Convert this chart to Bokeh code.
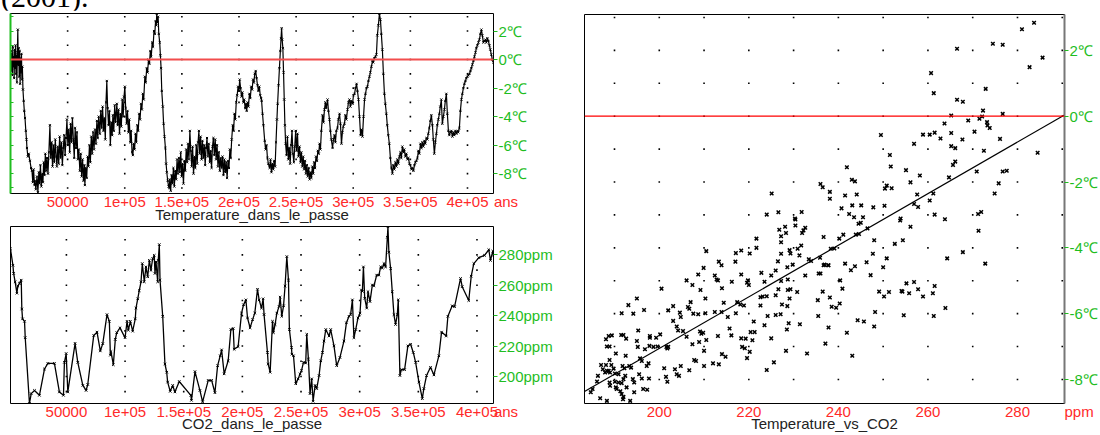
import numpy as np
from bokeh.plotting import figure
from bokeh.models import Range1d, LinearAxis, FixedTicker, Span, Div
from bokeh.layouts import column, row
from bokeh.embed import file_html
from bokeh.resources import INLINE

# ---------------- data ----------------
# Temperature anomaly (deg C) vs age (thousands of years)
temp_age_ka = [
    0.0, 0.4, 0.8, 1.2, 1.6, 2.0, 2.4, 2.8, 3.2, 3.6,
    4.0, 4.4, 4.8, 5.2, 5.6, 6.0, 6.4, 6.8, 7.2, 7.6,
    8.0, 8.4, 8.8, 9.2, 9.6, 10.0, 10.4, 10.9, 11.5, 12.1,
    12.7, 13.4, 14.0, 14.4, 15.2, 16.0, 17.0, 18.0, 18.8, 19.5,
    20.2, 21.0, 21.4, 22.2, 23.2, 24.0, 24.8, 25.5, 26.2, 27.0,
    27.8, 28.4, 29.0, 29.8, 30.5, 31.2, 32.0, 32.8, 33.6, 34.5,
    35.2, 36.0, 36.8, 37.6, 38.4, 39.2, 40.0, 40.6, 41.4, 42.2,
    43.0, 43.8, 44.6, 45.4, 46.2, 47.0, 47.8, 48.6, 49.4, 50.2,
    51.0, 51.8, 52.6, 53.4, 54.2, 55.0, 55.8, 56.6, 57.4, 58.2,
    59.0, 59.8, 60.7, 61.5, 62.3, 63.1, 63.9, 64.7, 65.1, 65.9,
    66.7, 67.5, 68.3, 69.1, 69.9, 70.7, 71.5, 72.3, 73.1, 74.0,
    74.8, 75.6, 76.4, 77.2, 78.2, 79.0, 79.8, 80.6, 81.4, 82.2,
    83.0, 83.6, 84.3, 85.0, 85.8, 86.6, 87.4, 88.2, 89.0, 89.6,
    90.4, 91.2, 92.0, 93.1, 93.8, 94.6, 95.4, 96.2, 97.0, 97.8,
    98.6, 99.4, 100.1, 100.8, 101.6, 102.4, 103.2, 104.0, 104.8, 105.6,
    106.4, 107.1, 107.8, 108.6, 109.4, 110.2, 111.0, 111.8, 112.6, 113.4,
    114.2, 115.0, 115.8, 116.6, 117.6, 118.4, 119.2, 120.0, 120.8, 121.6,
    122.4, 123.2, 124.0, 124.8, 125.6, 126.3, 127.0, 127.6, 128.0, 128.6,
    129.2, 129.8, 130.6, 131.2, 131.8, 132.4, 133.3, 134.0, 134.8, 135.6,
    136.2, 136.8, 137.6, 138.4, 139.0, 139.4, 140.2, 141.0, 141.8, 142.6,
    143.4, 144.2, 145.0, 145.8, 146.6, 147.4, 148.2, 149.0, 149.8, 150.6,
    151.4, 152.2, 153.0, 153.8, 154.6, 155.4, 156.2, 157.0, 157.8, 158.6,
    159.4, 160.2, 161.0, 161.8, 162.6, 163.4, 164.2, 164.9, 165.6, 166.4,
    167.2, 168.0, 168.8, 169.6, 170.4, 171.2, 172.0, 172.8, 173.6, 174.4,
    175.2, 176.0, 176.8, 177.6, 178.4, 179.2, 180.0, 180.8, 181.6, 182.4,
    183.2, 184.0, 184.8, 185.6, 186.4, 187.2, 188.0, 188.8, 189.6, 190.4,
    191.2, 192.0, 192.8, 193.6, 194.5, 195.3, 196.0, 196.8, 197.6, 198.4,
    199.2, 200.0, 200.6, 201.4, 202.2, 203.0, 203.8, 204.6, 205.4, 206.2,
    206.7, 207.5, 208.3, 209.1, 209.9, 210.7, 211.5, 212.3, 213.0, 213.8,
    214.6, 215.4, 216.2, 217.0, 217.8, 218.6, 219.4, 219.8, 220.6, 221.4,
    222.5, 223.3, 224.1, 224.9, 225.7, 226.8, 227.6, 228.4, 229.2, 230.0,
    230.8, 231.6, 232.4, 233.2, 233.8, 234.6, 235.4, 236.2, 236.8, 237.3,
    237.8, 238.4, 239.0, 239.6, 240.2, 240.8, 241.6, 242.4, 243.2, 244.0,
    244.8, 245.6, 246.4, 247.2, 248.0, 248.8, 249.6, 250.4, 251.2, 252.0,
    253.0, 253.8, 254.6, 255.4, 256.2, 257.0, 257.8, 258.6, 259.4, 260.2,
    261.0, 261.8, 262.6, 263.4, 264.2, 265.0, 265.8, 266.6, 267.4, 268.2,
    269.0, 269.8, 270.5, 271.3, 272.1, 273.1, 274.0, 274.8, 275.6, 276.4,
    277.5, 278.3, 279.2, 280.0, 280.8, 281.9, 282.7, 283.6, 284.4, 285.2,
    286.2, 287.0, 288.0, 288.8, 289.7, 290.5, 291.3, 292.3, 293.1, 294.0,
    295.0, 295.8, 296.7, 297.5, 298.3, 299.4, 300.2, 301.1, 302.0, 302.9,
    303.7, 304.6, 305.5, 306.4, 307.2, 308.1, 309.0, 309.9, 310.7, 311.6,
    312.4, 313.3, 314.2, 315.0, 315.9, 316.8, 317.6, 318.5, 319.4, 320.3,
    321.1, 322.0, 322.9, 323.8, 324.6, 325.5, 326.4, 327.3, 328.1, 329.0,
    329.8, 330.7, 331.6, 332.5, 333.4, 334.3, 335.1, 336.0, 336.9, 337.8,
    338.6, 339.5, 340.4, 341.3, 342.1, 343.0, 343.9, 344.7, 345.6, 346.5,
    347.4, 348.3, 349.2, 350.0, 350.9, 351.8, 352.7, 353.6, 354.4, 355.3,
    356.2, 357.0, 357.9, 358.8, 359.7, 360.5, 361.4, 362.3, 363.1, 364.0,
    364.9, 365.7, 366.6, 367.5, 368.4, 369.3, 370.1, 371.0, 371.9, 372.8,
    373.6, 374.5, 375.4, 376.2, 377.1, 378.0, 378.9, 379.8, 380.6, 381.5,
    382.4, 383.3, 384.1, 385.0, 385.9, 386.8, 387.6, 388.5, 389.4, 390.3,
    391.2, 392.0, 392.9, 393.8, 394.7, 395.5, 396.4, 397.3, 398.2, 399.0,
    399.9, 400.8, 401.7, 402.6, 403.4, 404.3, 405.2, 406.1, 407.0, 407.8,
    408.7, 409.6, 410.4, 411.3, 412.2, 413.0, 413.9, 414.8, 415.7, 416.5,
    417.4, 418.3, 419.2, 420.0, 420.9, 421.8, 422.7,
]
temp_c = [
    -0.3, 0.6, -0.8, 0.4, -1.1, 0.9, -0.5, 0.2, -1.3, 0.7,
    -0.6, 1.0, -1.0, 0.3, -1.6, 0.5, 2.1, -0.4, 0.8, -1.2,
    0.6, -1.7, 0.1, -0.9, 0.4, -1.4, -0.5, -2.1, -2.9, -3.6,
    -4.1, -5.0, -5.6, -6.2, -6.8, -6.6, -7.1, -7.6, -7.8, -8.6,
    -7.7, -8.8, -8.5, -9.1, -8.2, -9.3, -7.9, -8.7, -7.4, -8.9,
    -8.0, -8.6, -7.2, -8.1, -6.6, -7.8, -6.9, -8.0, -6.5, -4.6,
    -6.9, -5.8, -7.5, -6.0, -7.2, -5.6, -6.8, -7.5, -6.1, -7.3,
    -5.4, -6.9, -5.8, -7.4, -6.2, -5.3, -6.7, -5.5, -4.2, -6.0,
    -4.9, -6.5, -4.5, -5.8, -4.1, -5.6, -6.9, -4.8, -6.2, -5.1,
    -7.0, -6.3, -7.8, -6.6, -8.2, -7.0, -8.5, -7.4, -8.8, -7.6,
    -8.3, -6.8, -7.5, -6.0, -7.2, -5.4, -6.6, -5.1, -6.3, -4.9,
    -5.9, -4.3, -5.5, -4.0, -5.2, -3.6, -4.8, -3.3, -5.0, -4.1,
    -5.6, -3.0, -1.5, -3.4, -4.6, -3.6, -6.0, -4.4, -5.3, -3.9,
    -5.0, -3.2, -4.4, -3.1, -4.6, -3.5, -5.2, -3.8, -4.7, -2.8,
    -4.0, -2.6, -1.9, -3.4, -4.5, -3.6, -5.1, -4.2, -5.8, -5.0,
    -6.5, -6.7, -5.9, -6.3, -5.2, -5.8, -4.6, -5.0, -3.8, -4.2,
    -3.1, -3.5, -2.4, -2.8, -1.2, -1.6, -0.6, -0.9, 0.0, -0.3,
    0.6, 0.2, 1.2, 0.9, 2.0, 1.8, 2.7, 2.4, 3.2, 2.6,
    3.0, 1.8, 1.2, 0.3, -0.6, -2.2, -3.3, -4.5, -5.4, -6.2,
    -7.3, -7.9, -8.5, -8.9, -9.0, -8.4, -9.2, -8.1, -8.7, -7.6,
    -8.9, -7.8, -8.4, -7.0, -8.0, -6.9, -7.9, -6.5, -8.2, -7.3,
    -8.7, -7.1, -7.8, -6.3, -7.2, -5.9, -7.0, -5.0, -6.4, -7.5,
    -6.1, -8.0, -6.8, -7.6, -6.0, -7.3, -5.8, -5.0, -6.6, -5.4,
    -7.0, -5.7, -6.9, -6.0, -7.4, -6.2, -5.5, -6.8, -5.9, -7.2,
    -6.4, -7.6, -6.1, -5.5, -6.7, -5.6, -7.0, -6.0, -7.5, -6.5,
    -7.8, -6.9, -7.6, -6.8, -8.1, -7.0, -7.9, -7.2, -8.3, -7.1,
    -7.6, -6.3, -6.9, -5.6, -4.6, -5.0, -3.8, -4.2, -3.0, -2.5,
    -1.9, -2.2, -1.4, -2.0, -2.6, -2.3, -3.0, -2.8, -3.4, -3.1,
    -3.6, -3.0, -3.3, -2.4, -2.7, -1.9, -2.1, -1.4, -1.6, -1.0,
    -0.8, -1.3, -1.8, -2.2, -1.9, -2.5, -2.7, -2.9, -3.8, -4.6,
    -5.7, -6.3, -6.0, -6.9, -7.3, -7.6, -7.0, -7.9, -7.3, -7.7,
    -7.1, -7.5, -5.8, -4.2, -3.1, -1.8, -0.6, 0.6, 1.5, 2.2,
    1.4, 0.8, -0.9, -2.8, -4.6, -5.9, -6.7, -5.4, -7.0, -6.2,
    -7.3, -6.0, -5.0, -6.6, -7.2, -6.1, -5.0, -6.4, -5.2, -6.8,
    -6.1, -7.2, -6.5, -7.5, -6.8, -7.7, -7.1, -8.0, -7.4, -8.2,
    -7.6, -8.4, -7.9, -8.3, -7.5, -8.0, -7.2, -7.6, -6.8, -7.1,
    -6.4, -6.6, -5.9, -6.3, -5.0, -3.9, -4.4, -3.5, -3.0, -3.4,
    -2.8, -3.6, -4.2, -5.0, -5.6, -6.2, -5.6, -5.3, -5.8, -5.0,
    -4.8, -4.2, -3.8, -4.5, -5.9, -5.1, -4.7, -4.5, -3.9, -4.2,
    -3.5, -3.0, -2.8, -3.3, -2.9, -3.1, -2.5, -2.4, -2.0, -1.7,
    -2.2, -2.8, -4.0, -5.3, -4.9, -5.4, -4.0, -2.8, -2.4, -2.0,
    -1.9, -1.5, -1.2, -0.9, -0.5, -0.1, -0.2, 0.1, 0.2, 0.35,
    1.7, 2.4, 3.2, 2.8, 1.8, 0.7, -1.0, -2.4, -3.1, -3.8,
    -4.6, -5.3, -5.9, -6.9, -7.6, -8.0, -7.4, -7.7, -7.2, -7.5,
    -7.0, -7.3, -6.8, -6.5, -6.9, -6.1, -6.5, -6.3, -6.8, -6.6,
    -7.0, -6.9, -7.3, -7.4, -7.7, -7.6, -7.8, -7.4, -7.2, -7.1,
    -6.9, -6.4, -6.6, -5.9, -6.2, -5.8, -6.1, -5.7, -5.9, -5.5,
    -5.6, -5.2, -4.8, -4.3, -3.9, -4.6, -5.6, -6.6, -5.8, -5.2,
    -4.6, -4.2, -3.8, -3.3, -2.8, -4.5, -4.0, -3.5, -2.9, -2.4,
    -3.8, -5.0, -5.3, -5.1, -5.0, -5.4, -5.1, -5.3, -5.0, -5.2,
    -5.0, -5.1, -4.8, -3.6, -2.8, -2.4, -2.0, -1.7, -1.5, -1.3,
    -1.2, -1.1, -1.0, -0.8, -0.6, -0.35, -0.1, 0.2, 0.5, 0.8,
    1.0, 1.2, 1.4, 1.8, 2.1, 1.7, 1.2, 1.3, 1.4, 1.2,
    1.5, 1.3, 1.0, 0.7, 0.35, 0.0, -0.2,
]

# CO2 (ppm) vs age (thousands of years)
co2_age_ka = [
    2.3, 4.4, 5.0, 6.3, 7.8, 8.6, 10.0, 11.5, 12.0, 12.6,
    14.3, 14.9, 18.5, 20.0, 22.8, 27.0, 31.3, 34.2, 39.8, 44.0,
    47.5, 48.3, 49.8, 51.2, 57.4, 59.7, 64.0, 66.8, 68.2, 73.3,
    76.1, 78.9, 81.0, 84.6, 86.6, 87.5, 88.0, 90.0, 91.7, 92.9,
    95.7, 100.0, 101.7, 102.8, 104.5, 106.5, 108.7, 109.3, 110.8, 112.1,
    113.6, 114.7, 116.4, 117.8, 119.3, 120.7, 122.1, 123.5, 124.9, 125.5,
    126.4, 127.8, 128.3, 129.2, 129.8, 132.1, 134.0, 135.5, 136.3, 138.5,
    140.6, 142.5, 146.2, 156.1, 156.6, 159.6, 163.8, 166.1, 170.9, 173.8,
    176.6, 178.9, 181.1, 182.3, 184.5, 187.9, 190.2, 192.2, 193.0, 196.4,
    199.3, 201.0, 203.0, 204.4, 206.6, 208.7, 210.6, 212.9, 214.3, 216.3,
    217.7, 218.5, 221.4, 222.0, 223.7, 225.7, 226.5, 227.9, 229.4, 231.3,
    232.2, 233.6, 235.1, 236.4, 237.9, 239.3, 240.1, 241.9, 242.2, 243.6,
    245.5, 247.5, 249.2, 250.4, 252.1, 254.0, 254.9, 256.3, 257.7, 259.1,
    260.3, 262.0, 263.4, 265.4, 266.8, 268.3, 269.6, 271.1, 273.9, 275.3,
    278.1, 280.4, 283.2, 286.6, 288.7, 290.9, 292.3, 293.8, 295.1, 296.6,
    298.6, 300.3, 301.5, 302.3, 303.2, 304.3, 306.0, 307.1, 308.8, 310.8,
    312.2, 314.5, 316.4, 317.9, 319.3, 320.7, 322.1, 323.6, 324.1, 324.9,
    326.4, 327.8, 329.2, 330.6, 332.1, 332.9, 334.3, 335.5, 338.3, 341.1,
    343.4, 345.7, 347.7, 350.5, 353.4, 354.7, 357.0, 360.4, 363.3, 367.5,
    369.8, 373.8, 375.2, 378.9, 380.9, 386.0, 387.4, 393.0, 395.1, 397.3,
    401.6, 406.4, 410.1, 411.5, 413.5, 414.1,
]
co2_ppm = [
    284.0, 273.2, 267.8, 262.3, 254.8, 259.5, 261.3, 263.4, 244.4, 237.9,
    236.3, 225.5, 182.2, 188.7, 190.8, 187.6, 204.9, 208.6, 208.6, 189.8,
    187.6, 209.3, 215.1, 189.8, 221.8, 209.3, 194.1, 190.8, 194.7, 227.0,
    229.2, 216.8, 221.6, 240.7, 236.3, 214.0, 216.4, 207.7, 224.4, 228.8,
    232.0, 225.5, 236.3, 230.5, 236.3, 229.8, 237.9, 245.0, 251.1, 256.5,
    262.3, 274.3, 262.3, 272.1, 265.6, 276.4, 269.9, 277.5, 279.7, 267.8,
    275.3, 262.3, 276.4, 286.8, 263.4, 239.6, 208.2, 202.8, 196.3, 190.2,
    194.1, 189.8, 196.7, 187.6, 184.3, 203.2, 190.8, 183.3, 197.4, 197.4,
    189.3, 207.1, 213.6, 217.5, 201.7, 210.3, 230.9, 231.6, 217.9, 219.7,
    241.7, 247.2, 250.4, 238.5, 232.0, 237.4, 241.7, 257.4, 250.4, 245.0,
    251.1, 240.7, 215.8, 208.2, 202.8, 236.3, 228.8, 234.2, 241.7, 246.1,
    252.2, 239.6, 246.5, 259.5, 278.9, 263.4, 230.9, 219.0, 214.7, 213.6,
    195.2, 198.4, 201.7, 203.8, 209.3, 208.8, 227.7, 211.4, 188.7, 198.4,
    183.7, 194.1, 192.0, 200.6, 210.3, 215.8, 223.3, 230.9, 226.6, 230.9,
    220.1, 207.1, 212.5, 223.3, 235.3, 239.6, 240.9, 250.4, 225.5, 230.9,
    238.5, 241.7, 256.9, 256.0, 272.1, 251.5, 245.0, 255.8, 249.3, 260.2,
    259.7, 266.7, 266.7, 272.1, 271.4, 274.3, 272.1, 291.6, 298.5, 281.8,
    271.0, 255.8, 240.7, 234.2, 240.7, 250.4, 200.6, 204.5, 204.5, 220.1,
    221.2, 215.8, 209.3, 196.3, 185.4, 192.0, 200.6, 206.0, 201.0, 213.6,
    229.2, 226.6, 239.6, 246.5, 245.9, 264.5, 259.1, 250.0, 266.0, 274.3,
    278.2, 279.7, 283.4, 276.4, 282.5, 280.0,
]

# Temperature vs CO2 scatter
scatter_co2 = [
    225.1, 224.0, 226.6, 230.3, 231.8, 236.0, 236.5, 238.1, 238.1, 283.7,
    281.0, 274.5, 276.7, 266.5, 285.6, 282.7, 260.7, 261.3, 272.9, 266.5,
    267.8, 272.3, 265.2, 276.7, 271.5, 272.1, 269.0, 263.7, 273.2, 273.3,
    273.8, 270.4, 249.5, 258.9, 260.4, 261.5, 265.2, 262.8, 267.7, 276.1,
    256.9, 265.2, 266.1, 251.5, 272.5, 284.5, 266.1, 265.6, 241.9, 251.7,
    255.1, 258.2, 270.9, 276.7, 277.6, 264.7, 243.0, 243.7, 256.1, 275.8,
    250.8, 250.4, 251.9, 241.5, 244.1, 257.6, 261.2, 274.9, 260.4, 256.9,
    257.8, 240.7, 243.1, 245.1, 247.8, 250.3, 242.4, 243.5, 245.5, 261.5,
    271.2, 271.9, 253.9, 263.8, 226.8, 228.1, 228.3, 230.4, 230.4, 232.6,
    232.2, 231.9, 227.2, 227.2, 221.7, 231.7, 230.9, 229.1, 229.3, 227.2,
    221.7, 220.2, 218.3, 217.1, 210.5, 236.7, 231.3, 233.4, 233.9, 235.9,
    236.9, 237.8, 213.3, 213.9, 217.0, 209.9, 226.5, 229.8, 228.6, 226.0,
    222.8, 225.0, 227.2, 228.7, 232.6, 235.6, 236.0, 218.3, 219.8, 219.6,
    216.2, 212.4, 212.8, 213.1, 208.7, 207.4, 206.1, 209.2, 214.0, 220.0,
    223.5, 226.6, 228.7, 229.3, 230.8, 200.5, 195.0, 193.1, 196.6, 191.6,
    194.2, 202.0, 203.1, 206.4, 206.7, 207.0, 204.6, 204.8, 207.6, 208.7,
    210.3, 210.3, 214.4, 218.1, 218.9, 217.4, 222.6, 223.1, 224.0, 222.6,
    226.0, 227.4, 228.6, 229.1, 212.4, 213.9, 215.3, 217.1, 226.0, 227.1,
    224.2, 221.1, 223.5, 228.9, 231.4, 235.4, 238.1, 238.5, 235.5, 237.8,
    237.1, 233.0, 228.3, 228.5, 220.4, 221.3, 215.7, 216.1, 213.1, 218.3,
    219.3, 220.8, 218.5, 219.1, 225.0, 209.1, 209.4, 209.8, 206.1, 203.9,
    204.2, 203.1, 205.3, 207.4, 208.9, 210.5, 210.0, 207.8, 208.2, 212.0,
    213.3, 214.0, 214.8, 210.0, 219.6, 220.2, 225.6, 224.0, 206.7, 204.8,
    203.5, 203.9, 204.4, 201.5, 201.8, 201.1, 200.2, 201.8, 202.0, 201.6,
    199.3, 197.9, 197.9, 198.7, 197.8, 196.8, 195.7, 196.1, 197.6, 197.2,
    199.6, 195.2, 195.0, 195.3, 192.6, 191.5, 192.0, 188.7, 189.4, 188.9,
    190.3, 188.9, 192.5, 193.7, 191.8, 192.2, 193.3, 195.5, 196.1, 197.7,
    194.1, 194.4, 196.4, 197.3, 194.4, 193.5, 191.6, 192.0, 191.9, 190.5,
    191.3, 192.7, 190.9, 191.6, 192.0, 192.4, 190.1, 190.9, 189.8, 189.3,
    188.1, 188.3, 188.7, 189.0, 190.1, 189.0, 190.3, 188.9, 187.9, 187.4,
    186.3, 186.1, 186.8, 185.1, 184.7, 188.1, 188.3, 188.3, 187.0, 271.3,
    267.8, 272.8, 264.3, 263.9, 261.3, 261.5, 261.1, 258.9, 257.8, 256.9,
    255.2, 255.8, 254.1, 254.3, 254.6, 251.3, 250.2, 249.1, 248.2, 248.0,
    245.7, 244.3, 241.9, 243.1, 239.5, 240.3, 236.5, 240.9, 240.4, 247.2,
    250.0, 246.3, 242.8, 243.7, 241.5, 236.7, 237.7, 247.7, 250.8, 248.0,
    252.6, 254.4, 256.1, 253.8, 246.5, 244.5, 245.0, 243.9, 244.6, 240.2,
    241.1, 238.3, 239.1,
]
scatter_temp = [
    -2.35, -2.99, -2.92, -3.11, -2.91, -2.06, -2.16, -2.30, -2.51, 2.84,
    2.64, 2.20, 2.17, 2.05, 1.78, 1.49, 1.31, 0.70, 0.83, 0.50,
    0.44, 0.17, 0.02, 0.07, -0.08, -0.01, -0.13, -0.22, -0.18, -0.28,
    -0.36, -0.47, -0.57, -0.56, -0.56, -0.50, -0.51, -0.68, -0.71, -0.69,
    -0.84, -0.91, -0.97, -1.18, -1.05, -1.11, -1.38, -1.48, -1.55, -1.53,
    -1.64, -1.80, -1.68, -1.68, -1.66, -1.86, -1.93, -1.98, -2.01, -2.04,
    -2.11, -2.20, -2.19, -2.41, -2.38, -2.38, -2.35, -2.35, -2.56, -2.67,
    -2.76, -2.80, -2.71, -2.71, -2.77, -2.72, -2.97, -3.07, -3.07, -2.99,
    -2.97, -2.91, -3.11, -3.13, -3.45, -3.36, -3.55, -3.14, -3.32, -3.39,
    -3.47, -3.55, -3.65, -3.83, -3.72, -3.93, -4.03, -4.07, -4.17, -4.18,
    -4.00, -4.17, -4.08, -4.16, -4.10, -3.67, -4.23, -4.35, -4.40, -4.30,
    -4.51, -4.53, -4.42, -4.53, -4.42, -4.61, -4.41, -4.51, -4.59, -4.69,
    -4.76, -4.84, -5.01, -4.96, -4.84, -4.78, -4.78, -4.81, -4.99, -5.06,
    -5.03, -4.84, -4.96, -4.99, -4.81, -5.13, -4.99, -5.28, -5.23, -5.13,
    -5.03, -5.26, -5.28, -5.26, -5.34, -5.24, -5.54, -5.74, -5.89, -5.99,
    -6.00, -5.90, -5.77, -5.80, -5.85, -5.65, -5.97, -6.10, -6.00, -6.02,
    -5.99, -5.54, -5.67, -5.72, -5.75, -5.65, -5.50, -5.48, -5.47, -5.75,
    -5.44, -5.72, -5.77, -5.54, -5.95, -5.95, -6.10, -5.99, -6.04, -6.02,
    -6.07, -6.24, -6.35, -6.29, -6.32, -5.59, -5.51, -5.79, -6.07, -6.42,
    -6.91, -7.21, -7.13, -6.48, -6.56, -6.56, -6.45, -6.66, -6.68, -6.75,
    -6.76, -6.81, -7.01, -7.05, -6.75, -6.54, -6.61, -6.58, -6.70, -6.39,
    -6.51, -6.22, -6.53, -6.93, -6.86, -6.80, -7.13, -7.41, -7.44, -7.51,
    -7.54, -7.23, -7.31, -7.59, -7.35, -7.16, -7.48, -7.71, -7.72, -7.59,
    -7.69, -7.84, -7.89, -7.92, -8.07, -7.66, -6.63, -7.06, -7.01, -7.01,
    -6.73, -6.68, -6.73, -7.01, -6.98, -7.08, -7.36, -7.44, -7.51, -7.59,
    -7.00, -7.01, -6.83, -6.51, -6.76, -6.65, -6.65, -6.68, -6.66, -7.00,
    -7.21, -7.41, -7.28, -7.64, -7.59, -7.66, -7.59, -7.84, -7.97, -7.97,
    -7.99, -8.09, -8.29, -8.31, -8.39, -8.65, -8.44, -8.53, -8.60, -8.29,
    -8.36, -8.24, -8.09, -8.11, -7.99, -7.89, -7.82, -7.84, -7.67, -7.56,
    -7.56, -7.74, -7.74, -7.79, -8.07, -8.19, -8.24, -8.09, -7.79, -7.69,
    -7.89, -8.06, -8.57, -8.29, -8.39, -6.78, -7.00, -8.65, -7.56, -3.48,
    -4.13, -4.48, -4.32, -5.83, -6.07, -5.16, -5.38, -5.48, -5.26, -5.04,
    -5.08, -5.38, -5.31, -5.33, -6.05, -5.34, -5.48, -5.33, -5.95, -6.39,
    -6.24, -6.20, -6.58, -7.28, -5.82, -5.69, -5.33, -5.24, -4.99, -4.83,
    -4.59, -4.44, -4.68, -4.56, -4.48, -4.53, -4.53, -4.18, -4.32, -3.77,
    -3.88, -3.77, -3.36, -3.17, -3.41, -3.27, -3.24, -3.60, -3.58, -3.72,
    -3.60, -4.03, -4.02,
]

# axis ticks / labels
age_ticks = [50000, 100000, 150000, 200000, 250000, 300000, 350000, 400000]
age_labels = ["50000", "1e+05", "1.5e+05", "2e+05", "2.5e+05", "3e+05", "3.5e+05", "4e+05"]
temp_ticks = [-8, -6, -4, -2, 0, 2]
temp_labels = ["-8℃", "-6℃", "-4℃", "-2℃", "0℃", "2℃"]
temp_grid = [-9, -8, -7, -6, -5, -4, -3, -2, -1, 0, 1, 2, 3]
co2_ticks = [200, 220, 240, 260, 280]
co2_labels = ["200ppm", "220ppm", "240ppm", "260ppm", "280ppm"]
co2_grid = [190, 200, 210, 220, 230, 240, 250, 260, 270, 280, 290]
scat_x_ticks = [200, 220, 240, 260, 280]
scat_x_labels = ["200", "220", "240", "260", "280"]
age_unit = "ans"
co2_unit = "ppm"

# ---------------- styling ----------------
FONT = "Liberation Sans"
RED = "#ff2a2a"
GREEN = "#1fbd1f"
TXT = "#222222"
NBSP = "\u00a0"

X1 = (0.0, 422766.0); Y1 = (-9.39, 3.23)
X2 = (2342.0, 414085.0); Y2 = (182.2, 298.7)
X3 = (183.3, 290.5); Y3 = (-8.73, 3.09)


def make_fig(w, h, xr, yr, bl, br, bt, bb):
    p = figure(width=w, height=h, x_range=Range1d(*xr), y_range=Range1d(*yr),
               output_backend="svg", toolbar_location=None,
               x_axis_location=None, y_axis_location=None,
               min_border_left=bl, min_border_right=br,
               min_border_top=bt, min_border_bottom=bb)
    p.xgrid.visible = False
    p.ygrid.visible = False
    p.outline_line_color = "black"
    p.outline_line_width = 1
    p.background_fill_color = "white"
    p.border_fill_color = "white"
    return p


def axis(ticks, labels, color, tick_out=0, tick_in=0, standoff=1, title=None, title_standoff=-7):
    ax = LinearAxis(ticker=FixedTicker(ticks=ticks),
                    major_label_overrides={t: l for t, l in zip(ticks, labels)})
    ax.axis_line_color = None
    ax.major_tick_out = tick_out
    ax.major_tick_in = tick_in
    ax.major_tick_line_color = color if (tick_out or tick_in) else None
    ax.minor_tick_line_color = None
    ax.minor_tick_out = 0
    ax.minor_tick_in = 0
    ax.major_label_text_color = color
    ax.major_label_text_font = FONT
    ax.major_label_text_font_size = "15px"
    ax.major_label_standoff = standoff
    if title:
        ax.axis_label = title
        ax.axis_label_text_font = FONT
        ax.axis_label_text_font_size = "15px"
        ax.axis_label_text_font_style = "normal"
        ax.axis_label_text_color = TXT
        ax.axis_label_standoff = title_standoff
    return ax


def bottom_axis(ticks, labels, rng, unit, title, pad, title_standoff):
    # unit name is written as the label of a tick at the right end of the range
    end = rng[1] - (rng[1] - rng[0]) * 1e-7
    return axis(list(ticks) + [end], list(labels) + [NBSP * pad + unit], RED,
                standoff=-1, title=title, title_standoff=title_standoff)


def dots(p, xs, ys):
    gx = [x for x in xs for _ in ys]
    gy = [y for _ in xs for y in ys]
    p.scatter(gx, gy, marker="square", size=1.6, fill_color="black", line_color=None)


# ---------- panel 1 : temperature ----------
p1 = make_fig(570, 216, X1, Y1, 10, 77, 3, 33)
dots(p1, age_ticks, temp_grid)
t_years = [a * 1000 for a in temp_age_ka]
p1.line(t_years, temp_c, line_color="black", line_width=1.2)
p1.scatter(t_years, temp_c, marker="x", size=3, line_color="black", line_width=1)
p1.add_layout(Span(location=0, dimension="width", line_color="#f24d4d", line_width=2))
p1.add_layout(bottom_axis(age_ticks, age_labels, X1, age_unit, "Temperature_dans_le_passe", 6, -7), "below")
p1.add_layout(axis(temp_ticks, temp_labels, GREEN, tick_out=4, standoff=1), "right")
lax = axis(temp_grid, [""] * len(temp_grid), GREEN, tick_in=3, standoff=0)
lax.axis_line_color = GREEN
lax.axis_line_width = 2
p1.add_layout(lax, "left")

# ---------- panel 2 : CO2 ----------
p2 = make_fig(570, 209, X2, Y2, 10, 77, 0, 32)
dots(p2, age_ticks, co2_grid)
c_years = [a * 1000 for a in co2_age_ka]
p2.line(c_years, co2_ppm, line_color="black", line_width=1.3)
p2.scatter(c_years, co2_ppm, marker="x", size=3.5, line_color="black", line_width=1)
p2.add_layout(bottom_axis(age_ticks, age_labels, X2, age_unit, "CO2_dans_le_passe", 6, -8), "below")
p2.add_layout(axis(co2_ticks, co2_labels, GREEN, tick_out=4, standoff=1), "right")

# ---------- panel 3 : scatter ----------
p3 = make_fig(530, 425, X3, Y3, 14, 34, 4, 32)
dots(p3, co2_grid, temp_grid[1:])
p3.scatter(scatter_co2, scatter_temp, marker="x", size=5, line_color="black", line_width=1.5)
slope, intercept = np.polyfit(scatter_co2, scatter_temp, 1)
fx = [X3[0], X3[1]]
p3.line(fx, [slope * v + intercept for v in fx], line_color="black", line_width=1.2)
p3.add_layout(Span(location=0, dimension="width", line_color="#ff0000", line_width=1.2))
p3.add_layout(bottom_axis(scat_x_ticks, scat_x_labels, X3, co2_unit, "Temperature_vs_CO2", 7, -8), "below")
rax = axis(temp_ticks, temp_labels, GREEN, tick_out=4, standoff=1)
rax.axis_line_color = "#777777"
rax.axis_line_width = 2
p3.add_layout(rax, "right")

# ---------- header text (end of the page paragraph above the chart) ----------
head = Div(text=('<div style="position:relative;left:1px;top:-18px;'
                 'font-family:\'Liberation Serif\';font-size:30px;line-height:30px;'
                 'white-space:nowrap;color:#000">(2001).</div>'),
           width=120, height=10, margin=(0, 0, 0, 0), styles={"overflow": "visible"})

layout = column(head, row(column(p1, p2), p3))
open("out.html", "w").write(file_html(layout, INLINE))
